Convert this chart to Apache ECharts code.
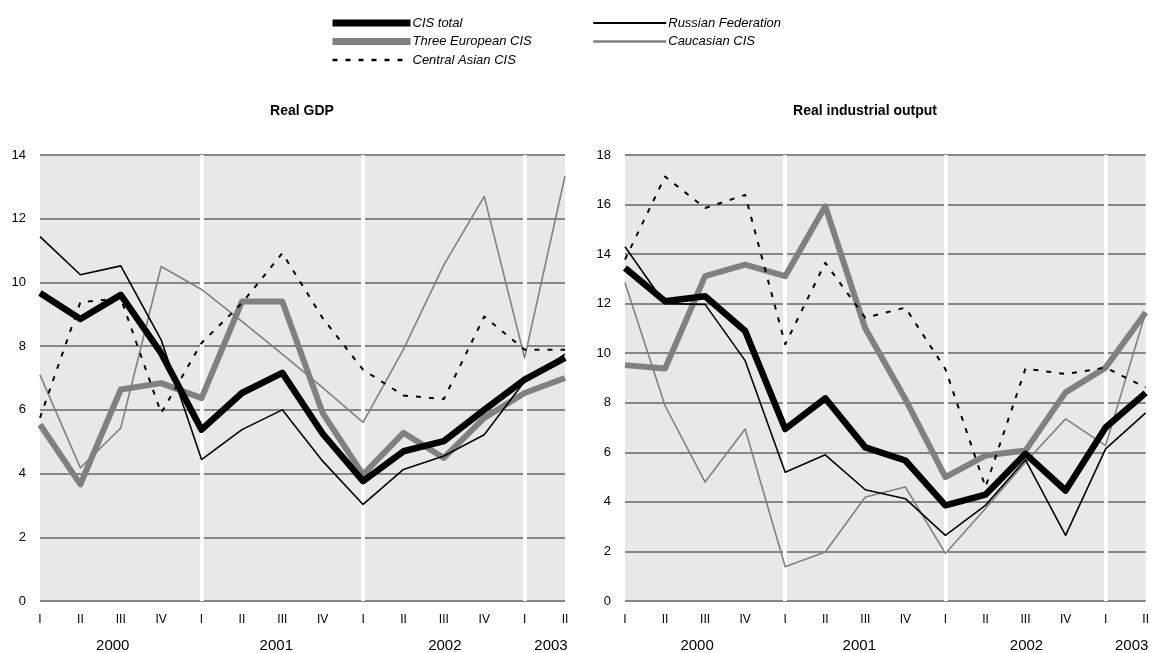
<!DOCTYPE html>
<html><head><meta charset="utf-8">
<script src="https://cdn.jsdelivr.net/npm/echarts@6/dist/echarts.min.js"></script>
<style>html,body{margin:0;padding:0;background:#fff}#c{width:1152px;height:653px}</style>
</head><body><div id="c"></div>
<script>
// ---- data ----
const quarterLabels = ['I','II','III','IV','I','II','III','IV','I','II','III','IV','I','II'];
const yearLabels = ['', '', '2000', '', '', '', '2001', '', '', '', '2002', '', '', '2003'];
const yearStartIdx = [4, 8, 12];

const gdpCIS       = [9.67, 8.85, 9.61, 7.78, 5.38, 6.53, 7.16, 5.25, 3.76, 4.70, 5.02, 6.00, 6.95, 7.63];
const gdpRussia    = [11.44, 10.24, 10.52, 8.20, 4.44, 5.38, 6.00, 4.39, 3.03, 4.13, 4.55, 5.22, 6.90, 7.75];
const gdpEuropean  = [5.54, 3.66, 6.64, 6.84, 6.37, 9.40, 9.40, 5.90, 3.97, 5.28, 4.49, 5.75, 6.53, 7.00];
const gdpCaucasian = [7.10, 4.18, 5.43, 10.50, 9.78, 8.78, 7.75, 6.70, 5.61, 7.90, 10.55, 12.70, 7.63, 13.34];
const gdpCentralAs = [5.75, 9.38, 9.50, 5.90, 8.10, 9.35, 10.92, 8.88, 7.26, 6.45, 6.34, 8.93, 7.89, 7.89];

const indCIS       = [13.44, 12.10, 12.30, 10.90, 6.94, 8.18, 6.20, 5.67, 3.86, 4.29, 5.94, 4.46, 7.00, 8.40];
const indRussia    = [14.30, 12.00, 11.97, 9.70, 5.20, 5.90, 4.49, 4.13, 2.65, 3.86, 5.70, 2.65, 6.14, 7.59];
const indEuropean  = [9.52, 9.38, 13.11, 13.58, 13.11, 15.93, 11.00, 8.15, 5.00, 5.87, 6.07, 8.42, 9.42, 11.64];
const indCaucasian = [12.84, 7.88, 4.80, 6.94, 1.38, 1.98, 4.20, 4.60, 1.92, 3.73, 5.60, 7.35, 6.27, 11.64];
const indCentralAs = [13.78, 17.13, 15.86, 16.39, 10.36, 13.65, 11.43, 11.84, 9.36, 4.60, 9.38, 9.16, 9.42, 8.62];

const gdpTicks = {min: 0, max: 14, interval: 2};
const indTicks = {min: 0, max: 18, interval: 2};

// ---- styles ----
const FONT = 'Liberation Sans, Arial, sans-serif';
const GRIDLINE = '#858585';
const styles = {
  'CIS total':          {color: '#000000', width: 6.5, type: 'solid', z: 6, legendWidth: 7},
  'Russian Federation': {color: '#000000', width: 1.6, type: 'solid', z: 5, legendWidth: 2},
  'Three European CIS': {color: '#808080', width: 6,   type: 'solid', z: 3, legendWidth: 7},
  'Caucasian CIS':      {color: '#808080', width: 1.6, type: 'solid', z: 2, legendWidth: 2.5},
  'Central Asian CIS':  {color: '#000000', width: 2,   type: [5, 8], z: 4, legendWidth: 2.5}
};
// horizontal nudge of the year labels (px) to sit as in the original
const yearShift = {'2000': -8, '2001': -6, '2002': 1, '2003': -14};

function mkSeries(name, data, gi, withSeparators) {
  const s = styles[name];
  const obj = {
    name, type: 'line', data, xAxisIndex: gi * 2, yAxisIndex: gi,
    symbol: 'none', smooth: false, z: s.z,
    lineStyle: {color: s.color, width: s.width, type: s.type, join: 'round'},
    itemStyle: {color: s.color},
    emphasis: {disabled: true}, animation: false
  };
  if (withSeparators) {
    obj.markLine = {
      silent: true, symbol: 'none', z: 1, animation: false,
      label: {show: false},
      lineStyle: {color: '#ffffff', width: 4, type: 'solid'},
      emphasis: {disabled: true},
      data: yearStartIdx.map(i => ({xAxis: i}))
    };
  }
  return obj;
}

function legendItem(name) {
  const s = styles[name];
  return {
    name,
    itemStyle: {opacity: 0},
    lineStyle: {color: s.color, width: s.legendWidth, type: s.type, cap: 'butt'}
  };
}

const grids = [
  {left: 40, right: 587, top: 155, bottom: 51, show: true, backgroundColor: '#e8e8e8', borderWidth: 0},
  {left: 625, right: 3, top: 155, bottom: 51, show: true, backgroundColor: '#e8e8e8', borderWidth: 0}
];

function quarterAxis(gi) {
  return {
    type: 'category', gridIndex: gi, data: quarterLabels, boundaryGap: false, position: 'bottom',
    axisLine: {show: false}, axisTick: {show: false}, splitLine: {show: false},
    axisLabel: {interval: 0, margin: 13, fontSize: 12, color: '#000', fontFamily: FONT}
  };
}
const yearRich = {};
Object.keys(yearShift).forEach(k => {
  const d = yearShift[k];
  yearRich['y' + k] = {fontSize: 15, fontFamily: FONT, color: '#000',
    padding: d < 0 ? [0, -2 * d, 0, 0] : [0, 0, 0, 2 * d]};
});
function yearAxis(gi) {
  return {
    type: 'category', gridIndex: gi, data: yearLabels, boundaryGap: false, position: 'bottom', offset: 20,
    axisLine: {show: false}, axisTick: {show: false}, splitLine: {show: false},
    axisLabel: {
      interval: 0, margin: 17, fontSize: 15, color: '#000', fontFamily: FONT,
      formatter: v => v ? '{y' + v + '|' + v + '}' : '',
      rich: yearRich
    }
  };
}
function valueAxis(gi, t) {
  return {
    type: 'value', gridIndex: gi, min: t.min, max: t.max, interval: t.interval,
    axisLine: {show: false}, axisTick: {show: false},
    splitLine: {show: true, lineStyle: {color: GRIDLINE, width: 2}},
    axisLabel: {margin: 14, fontSize: 13, color: '#000', fontFamily: FONT}
  };
}

const legendText = {fontSize: 13, fontStyle: 'italic', color: '#000', fontFamily: FONT, padding: [0, 0, 0, -3]};

const option = {
  backgroundColor: '#ffffff',
  animation: false,
  title: [
    {text: 'Real GDP', left: 302, top: 104, textAlign: 'center', padding: 0,
     textStyle: {fontSize: 14, fontWeight: 'bold', color: '#000', fontFamily: FONT}},
    {text: 'Real industrial output', left: 865, top: 104, textAlign: 'center', padding: 0,
     textStyle: {fontSize: 14, fontWeight: 'bold', color: '#000', fontFamily: FONT}}
  ],
  legend: [
    {orient: 'vertical', left: 329, top: 16.5, padding: 0, itemWidth: 78, itemHeight: 14, itemGap: 5.5,
     data: ['CIS total', 'Three European CIS', 'Central Asian CIS'].map(legendItem), selectedMode: false,
     textStyle: legendText},
    {orient: 'vertical', left: 592, top: 16.5, padding: 0, itemWidth: 73, itemHeight: 14, itemGap: 5.5,
     data: ['Russian Federation', 'Caucasian CIS'].map(legendItem), selectedMode: false,
     textStyle: legendText}
  ],
  grid: grids,
  xAxis: [quarterAxis(0), yearAxis(0), quarterAxis(1), yearAxis(1)],
  yAxis: [valueAxis(0, gdpTicks), valueAxis(1, indTicks)],
  series: [
    mkSeries('Caucasian CIS', gdpCaucasian, 0, true),
    mkSeries('Three European CIS', gdpEuropean, 0, false),
    mkSeries('Central Asian CIS', gdpCentralAs, 0, false),
    mkSeries('Russian Federation', gdpRussia, 0, false),
    mkSeries('CIS total', gdpCIS, 0, false),
    mkSeries('Caucasian CIS', indCaucasian, 1, true),
    mkSeries('Three European CIS', indEuropean, 1, false),
    mkSeries('Central Asian CIS', indCentralAs, 1, false),
    mkSeries('Russian Federation', indRussia, 1, false),
    mkSeries('CIS total', indCIS, 1, false)
  ]
};

const chart = echarts.init(document.getElementById('c'), null, {renderer: 'canvas'});
chart.setOption(option);
</script>
</body></html>
